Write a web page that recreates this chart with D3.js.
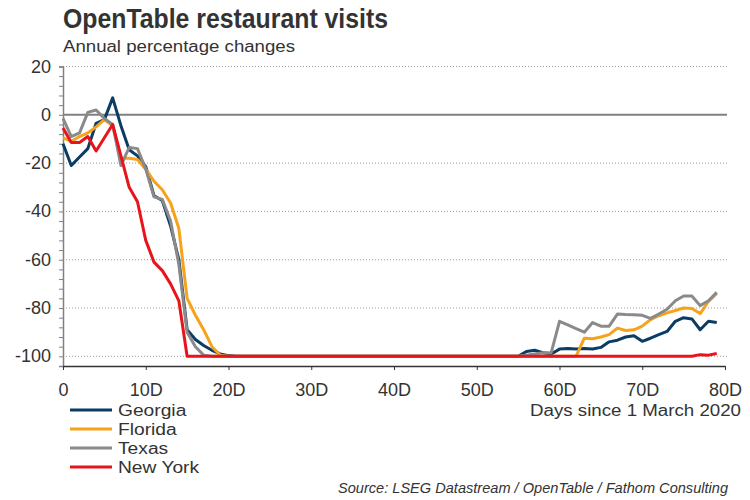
<!DOCTYPE html>
<html>
<head>
<meta charset="utf-8">
<script src="https://cdn.jsdelivr.net/npm/d3@7"></script>
<style>
  body { margin: 0; background: #fff; }
  svg text { font-family: "Liberation Sans", Arial, sans-serif; fill: #333; }
</style>
</head>
<body>
<div id="chart"></div>
<script>

// Days since 1 March 2020, 0..79
var days = d3.range(0, 80);

var georgia = [
  -12, -21, -17.5, -14, -3.5, -2, 7, -4.5, -14.5, -17,
  -21.5, -33.5, -35.5, -46, -60, -89, -93, -95.5, -97.5, -99,
  -99.7, -100, -100, -100, -100, -100, -100, -100, -100, -100,
  -100, -100, -100, -100, -100, -100, -100, -100, -100, -100,
  -100, -100, -100, -100, -100, -100, -100, -100, -100, -100,
  -100, -100, -100, -100, -100, -100, -98, -97.5, -98.5, -99,
  -97, -96.8, -97, -96.8, -97, -96.3, -94, -93.3, -92, -91.5,
  -93.8, -92.5, -91, -89.7, -85.5, -84, -84.5, -89, -85.5, -86
];

var florida = [
  -9.5, -11, -9, -7.5, -5, -2, -4.5, -18, -18, -18.5,
  -22.5, -27.5, -31, -36.5, -47, -76, -83, -89, -96, -99.5,
  -100, -100, -100, -100, -100, -100, -100, -100, -100, -100,
  -100, -100, -100, -100, -100, -100, -100, -100, -100, -100,
  -100, -100, -100, -100, -100, -100, -100, -100, -100, -100,
  -100, -100, -100, -100, -100, -100, -100, -100, -100, -100,
  -100, -100, -100, -92.5, -92.7, -92, -91, -88.3, -89.3, -89,
  -87.5, -84.8, -83.2, -82, -81, -80, -80.2, -82.3, -77.3, -74
];

var texas = [
  -1.5, -9, -7.5, 1, 2, -1.5, -4, -21, -13.5, -14,
  -22.5, -34, -35, -44, -62, -90, -96, -99.5, -100, -100,
  -100, -100, -100, -100, -100, -100, -100, -100, -100, -100,
  -100, -100, -100, -100, -100, -100, -100, -100, -100, -100,
  -100, -100, -100, -100, -100, -100, -100, -100, -100, -100,
  -100, -100, -100, -100, -100, -100, -99.5, -99, -98.5, -98.5,
  -85.5, -87, -88.5, -90, -86, -87.5, -87.5, -82.5, -82.7, -82.8,
  -83, -84.3, -82.5, -80.5, -77, -75, -75, -79, -77, -73.5
];

var new_york = [
  -5.5, -11.5, -11.5, -9, -15, -9.5, -4, -17, -30, -36,
  -52, -61, -64.5, -70, -77, -100, -100, -100, -100, -100,
  -100, -100, -100, -100, -100, -100, -100, -100, -100, -100,
  -100, -100, -100, -100, -100, -100, -100, -100, -100, -100,
  -100, -100, -100, -100, -100, -100, -100, -100, -100, -100,
  -100, -100, -100, -100, -100, -100, -100, -100, -100, -100,
  -100, -100, -100, -100, -100, -100, -100, -100, -100, -100,
  -100, -100, -100, -100, -100, -100, -100, -99.3, -99.5, -98.8
];

var series_names = ["Georgia", "Florida", "Texas", "New York"];
var series_values = [georgia, florida, texas, new_york];
var series_colours = ["#0b3c66", "#f7a21b", "#8a8a8a", "#e8141c"];

var x_ticks = [0, 10, 20, 30, 40, 50, 60, 70, 80];
var x_tick_labels = ["0", "10D", "20D", "30D", "40D", "50D", "60D", "70D", "80D"];
var y_ticks = [20, 0, -20, -40, -60, -80, -100];

var width = 750, height = 500;
var margin = { top: 66.5, left: 63, right: 25, bottom: 134 };

// reference text is a little wider than Liberation Sans
var stretch = 1.2;

var svg = d3.select("#chart").append("svg")
  .attr("width", width)
  .attr("height", height);

var x = d3.scaleLinear().domain([0, 80]).range([margin.left, 725]);
var y = d3.scaleLinear().domain([-104, 20]).range([366, margin.top]);

//Titles
svg.append("text")
  .attr("x", 63).attr("y", 28)
  .style("font-size", "27px").style("font-weight", "bold")
  .attr("textLength", 325).attr("lengthAdjust", "spacingAndGlyphs")
  .text("OpenTable restaurant visits");

svg.append("text")
  .attr("x", 63).attr("y", 52)
  .style("font-size", "16px")
  .attr("textLength", 232).attr("lengthAdjust", "spacingAndGlyphs")
  .text("Annual percentage changes");

//Grid
svg.append("g").selectAll("line")
  .data(y_ticks.filter(function(d) { return d !== 0; }))
  .enter().append("line")
  .attr("x1", x(0)).attr("x2", 727)
  .attr("y1", function(d) { return y(d); })
  .attr("y2", function(d) { return y(d); })
  .attr("stroke", "#9a9a9a")
  .attr("stroke-width", 1)
  .attr("stroke-dasharray", "1,2");

svg.append("line")
  .attr("x1", x(0)).attr("x2", 727)
  .attr("y1", y(0)).attr("y2", y(0))
  .attr("stroke", "#808080")
  .attr("stroke-width", 2);

//Axes
var y_axis = d3.axisLeft(y)
  .tickValues(d3.range(-104, 21, 4))
  .tickSize(4)
  .tickFormat("");

var y_g = svg.append("g")
  .attr("transform", "translate(" + x(0) + ",0)")
  .call(y_axis);
y_g.select(".domain").attr("stroke", "#808080").attr("stroke-width", 1.5);
y_g.selectAll(".tick line").attr("stroke", "#808080");

svg.append("g").selectAll("text")
  .data(y_ticks)
  .enter().append("text")
  .attr("x", 51)
  .attr("y", function(d) { return y(d) + 6; })
  .style("text-anchor", "end")
  .style("font-size", "18px")
  .text(function(d) { return d; });

var x_axis = d3.axisBottom(x)
  .tickValues(x_ticks)
  .tickSize(4)
  .tickSizeOuter(0)
  .tickFormat(function(d, i) { return x_tick_labels[i]; });

var x_g = svg.append("g")
  .attr("transform", "translate(0," + y(-104) + ")")
  .call(x_axis);
x_g.select(".domain").attr("stroke", "#333").attr("stroke-width", 1.5);
x_g.selectAll(".tick line").attr("stroke", "#333");
x_g.selectAll(".tick text")
  .attr("y", 17)
  .style("font-size", "18px")
  .style("font-family", "'Liberation Sans', Arial, sans-serif")
  .attr("fill", "#333");

//Lines
var line = d3.line()
  .x(function(d, i) { return x(days[i]); })
  .y(function(d) { return y(d); });

svg.append("g").selectAll("path")
  .data(series_values)
  .enter().append("path")
  .attr("d", line)
  .attr("fill", "none")
  .attr("stroke", function(d, i) { return series_colours[i]; })
  .attr("stroke-width", 3)
  .attr("stroke-linejoin", "round");

//Legend
var legend = svg.append("g").selectAll("g")
  .data(series_names)
  .enter().append("g")
  .attr("transform", function(d, i) { return "translate(70," + (410 + i * 19) + ")"; });

legend.append("line")
  .attr("x1", 0).attr("x2", 42)
  .attr("stroke", function(d, i) { return series_colours[i]; })
  .attr("stroke-width", 3);

legend.append("text")
  .attr("x", 48).attr("y", 6)
  .style("font-size", "16px")
  .text(function(d) { return d; })
  .each(function() {
    d3.select(this)
      .attr("textLength", this.getComputedTextLength() * stretch)
      .attr("lengthAdjust", "spacingAndGlyphs");
  });

svg.append("text")
  .attr("x", 741).attr("y", 416)
  .style("text-anchor", "end")
  .style("font-size", "16px")
  .attr("textLength", 211).attr("lengthAdjust", "spacingAndGlyphs")
  .text("Days since 1 March 2020");

svg.append("text")
  .attr("x", 728).attr("y", 493)
  .style("text-anchor", "end")
  .style("font-size", "14px")
  .style("font-style", "italic")
  .attr("fill", "#444")
  .attr("textLength", 390).attr("lengthAdjust", "spacingAndGlyphs")
  .text("Source: LSEG Datastream / OpenTable / Fathom Consulting");

</script>
</body>
</html>
